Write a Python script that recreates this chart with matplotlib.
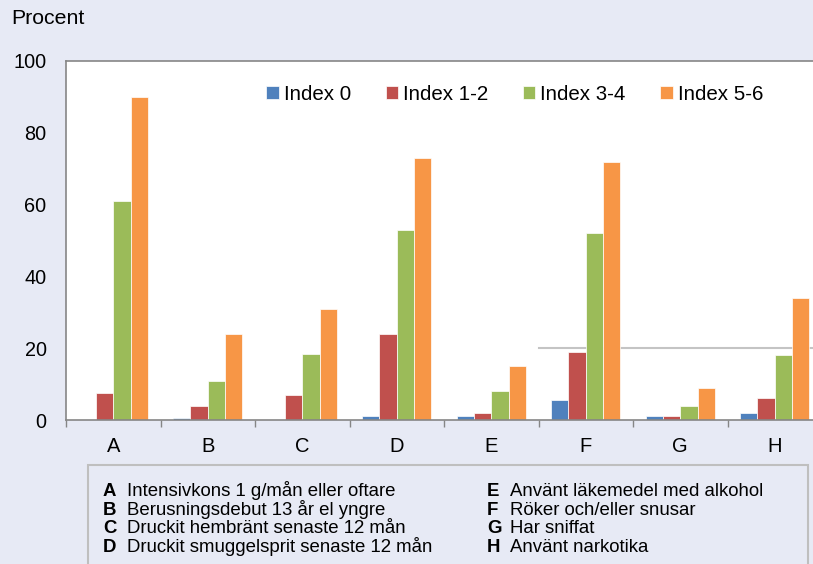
import matplotlib.pyplot as plt
import numpy as np

# Data
kategorier = ['A', 'B', 'C', 'D', 'E', 'F', 'G', 'H']
index_0 = [0, 0.5, 0, 1, 1, 5.5, 1, 2]
index_1_2 = [7.5, 4, 7, 24, 2, 19, 1, 6]
index_3_4 = [61, 11, 18.5, 53, 8, 52, 4, 18]
index_5_6 = [90, 24, 31, 73, 15, 72, 9, 34]
serier = ['Index 0', 'Index 1-2', 'Index 3-4', 'Index 5-6']
farger = ['#4F81BD', '#C0504D', '#9BBB59', '#F79646']

forklaring_v = [('A', 'Intensivkons 1 g/mån eller oftare'),
                ('B', 'Berusningsdebut 13 år el yngre'),
                ('C', 'Druckit hembränt senaste 12 mån'),
                ('D', 'Druckit smuggelsprit senaste 12 mån')]
forklaring_h = [('E', 'Använt läkemedel med alkohol'),
                ('F', 'Röker och/eller snusar'),
                ('G', 'Har sniffat'),
                ('H', 'Använt narkotika')]

plt.rcParams['font.family'] = ['Liberation Sans', 'DejaVu Sans']
bg = '#E7EAF5'
W, H = 813, 564

fig = plt.figure(figsize=(W / 100, H / 100), dpi=100, facecolor=bg)
ax = fig.add_axes([66 / W, 1 - 420 / H, 756 / W, 359 / H])
ax.set_facecolor('white')

x = np.arange(len(kategorier))
bw = 0.183
for i, (vals, namn, f) in enumerate(zip([index_0, index_1_2, index_3_4, index_5_6], serier, farger)):
    ax.bar(x + (i - 1.5) * bw, vals, bw, color=f, label=namn,
           edgecolor='white', linewidth=0.5, zorder=2)

# grå linje vid 20 till höger
ax.plot([4.5, 7.5], [20, 20], color='#C4C4C4', lw=1.5, zorder=1)

ax.set_xlim(-0.5, len(kategorier) - 0.5)
ax.set_ylim(0, 100)
ax.set_yticks([0, 20, 40, 60, 80, 100])
ax.set_xticks(x)
ax.set_xticklabels(kategorier)
ax.set_xticks(np.arange(len(kategorier) + 1) - 0.5, minor=True)
ax.tick_params(axis='x', which='major', length=0, labelsize=14.5, pad=12)
ax.tick_params(axis='x', which='minor', length=5, color='#868686', width=1)
ax.tick_params(axis='y', length=0, labelsize=14.3, pad=14)
for s in ax.spines.values():
    s.set_color('#868686')
    s.set_linewidth(1.2)
    s.set_zorder(3)

fig.text(11 / W, 1 - 18 / H, 'Procent', fontsize=15.3, va='center', ha='left')

leg = ax.legend(loc='center left', bbox_to_anchor=(256 / W, 1 - 94 / H),
                bbox_transform=fig.transFigure, ncol=4, frameon=False,
                fontsize=14.8, handlelength=0.6, handleheight=0.6,
                handletextpad=0.25, columnspacing=1.68, borderpad=0)

# Forklaringsruta
ruta = plt.Rectangle((88 / W, -0.05), 720 / W, (1 - 465 / H) + 0.05,
                     transform=fig.transFigure, facecolor=bg,
                     edgecolor='#BFBFBF', linewidth=1.5)
fig.add_artist(ruta)
rader_y = [496, 515, 533, 552]
fs = 13.4
for (b, t), yy in zip(forklaring_v, rader_y):
    fig.text(103 / W, 1 - yy / H, b, fontsize=fs, fontweight='bold', va='baseline')
    fig.text(127 / W, 1 - yy / H, t, fontsize=fs, va='baseline')
for (b, t), yy in zip(forklaring_h, rader_y):
    fig.text(487 / W, 1 - yy / H, b, fontsize=fs, fontweight='bold', va='baseline')
    fig.text(510 / W, 1 - yy / H, t, fontsize=fs, va='baseline')

fig.savefig('out.png', dpi=100, facecolor=bg)
